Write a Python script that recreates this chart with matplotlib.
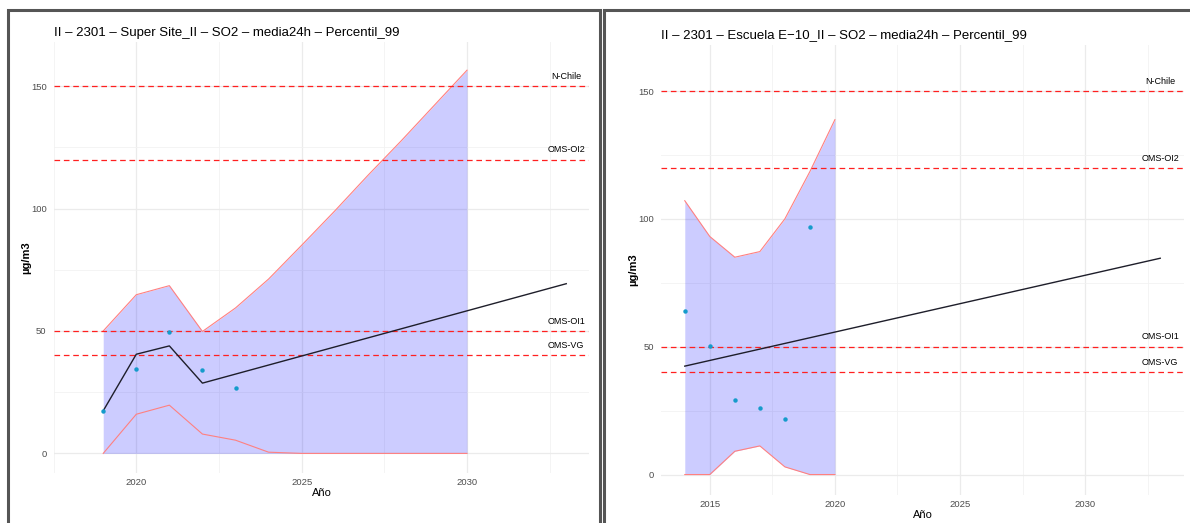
import numpy as np
import matplotlib.pyplot as plt
from matplotlib.patches import Rectangle

plt.rcParams['font.family'] = ['Liberation Sans', 'DejaVu Sans']

# left panel: Super Site_II
years_a = [2019, 2020, 2021, 2022, 2023]
obs_a = [17.4, 34.6, 49.5, 34.0, 26.7]
trend_years_a = [2019, 2020, 2021, 2022, 2033]
trend_a = [17.4, 40.5, 43.9, 28.7, 69.3]
band_years_a = [2019, 2020, 2021, 2022, 2023, 2024, 2025, 2026, 2027, 2028, 2029, 2030]
upper_a = [50.0, 64.8, 68.5, 49.8, 59.4, 71.2, 85.0, 99.0, 113.5, 127.5, 142.0, 156.5]
lower_a = [0.0, 16.0, 19.7, 7.9, 5.4, 0.5, 0.0, 0.0, 0.0, 0.0, 0.0, 0.0]

# right panel: Escuela E-10_II
years_b = [2014, 2015, 2016, 2017, 2018, 2019]
obs_b = [64.1, 50.4, 29.0, 26.1, 21.8, 97.0]
trend_years_b = [2014, 2033]
trend_b = [42.4, 84.6]
band_years_b = [2014, 2015, 2016, 2017, 2018, 2019, 2020]
upper_b = [107.1, 93.1, 85.0, 87.2, 100.0, 118.5, 138.8]
lower_b = [0.0, 0.0, 9.1, 11.2, 3.0, 0.0, 0.0]

ref_names = ["N-Chile", "OMS-OI2", "OMS-OI1", "OMS-VG"]
ref_values = [150, 120, 50, 40]

titles = ["II \u2013 2301 \u2013 Super Site_II \u2013 SO2 \u2013 media24h \u2013 Percentil_99",
          "II \u2013 2301 \u2013 Escuela E\u221210_II \u2013 SO2 \u2013 media24h \u2013 Percentil_99"]

W, H = 1190, 523
fig = plt.figure(figsize=(W / 100, H / 100), dpi=100)

# panel frames
fig.patches.append(Rectangle((8 / W, -0.05), 592 / W, 1.05 - 10 / H, transform=fig.transFigure,
                             fill=False, edgecolor='#555555', linewidth=2.2))
fig.patches.append(Rectangle((604 / W, -0.05), 600 / W, 1.05 - 10 / H, transform=fig.transFigure,
                             fill=False, edgecolor='#555555', linewidth=2.2))


def px_axes(x0, x1, top, bottom):
    return fig.add_axes([x0 / W, (H - bottom) / H, (x1 - x0) / W, (bottom - top) / H])


def panel(ax, years, obs, ty, tr, by, up, lo, fill_from_zero, xlim, xmajor, xminor, title,
          title_pad, xlab_pad):
    ax.set_xlim(*xlim)
    ax.set_ylim(-8, 168)
    ax.set_xticks(xmajor)
    ax.set_xticks(xminor, minor=True)
    ax.set_yticks([0, 50, 100, 150])
    ax.set_yticks([25, 75, 125], minor=True)
    ax.set_axisbelow(True)
    ax.grid(which='major', color='#EBEBEB', linewidth=0.9)
    ax.grid(which='minor', color='#F2F2F2', linewidth=0.6)
    for s in ax.spines.values():
        s.set_visible(False)
    ax.tick_params(which='both', length=0, labelsize=6.8, labelcolor='#4D4D4D')
    ax.tick_params(axis='x', pad=3.5)
    ax.tick_params(axis='y', pad=5)

    base = np.zeros(len(up)) if fill_from_zero else lo
    ax.fill_between(by, base, up, color='blue', alpha=0.2, linewidth=0, zorder=2)
    ax.plot(by, up, color='#FF8080', linewidth=0.8, zorder=3)
    ax.plot(by, lo, color='#FF8080', linewidth=0.8, zorder=3)

    for name, v in zip(ref_names, ref_values):
        ax.axhline(v, color='#FF2020', linestyle=(0, (4.5, 3)), linewidth=0.9, zorder=4)
        ax.annotate(name, (2033, v), xytext=(0, 7), textcoords='offset points',
                    ha='center', va='center', fontsize=6.5, color='black')

    ax.plot(ty, tr, color='#1E1E2A', linewidth=1.0, zorder=5)
    ax.plot(years, obs, 'o', color='#159BCB', markersize=3.2, markeredgewidth=0, zorder=6)

    ax.set_title(title, loc='left', fontsize=9.5, pad=title_pad)
    ax.set_xlabel("A\u00f1o", fontsize=8, labelpad=xlab_pad)
    ax.set_ylabel("\u00b5g/m3", fontsize=8, fontweight='bold', labelpad=0)


ax1 = px_axes(53.6, 589.4, 42, 473)
panel(ax1, years_a, obs_a, trend_years_a, trend_a, band_years_a, upper_a, lower_a, True,
      (2018.3, 2033.7), [2020, 2025, 2030], [2017.5, 2022.5, 2027.5, 2032.5], titles[0],
      4.5, 0.5)

ax2 = px_axes(661, 1184, 45, 495)
panel(ax2, years_b, obs_b, trend_years_b, trend_b, band_years_b, upper_b, lower_b, False,
      (2013.05, 2033.95), [2015, 2020, 2025, 2030], [2017.5, 2022.5, 2027.5, 2032.5], titles[1],
      5, 1)

fig.savefig("out.png", dpi=100)
